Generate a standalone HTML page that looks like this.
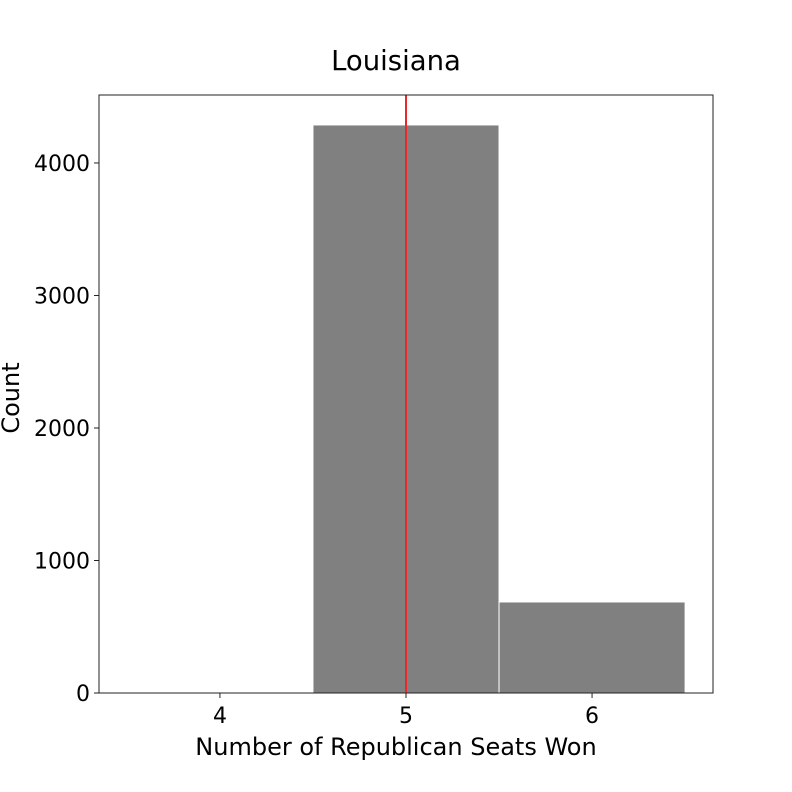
<!DOCTYPE html>
<html><head><meta charset="utf-8"><style>body{margin:0;background:#fff}svg{display:block;font-family:"DejaVu Sans","Liberation Sans",sans-serif}</style></head>
<body>
<svg id="chart" width="792" height="792">
<rect width="792" height="792" fill="#fff"/>
<text x="396" y="70" font-size="27.5" text-anchor="middle">Louisiana</text>
<g id="plot"></g>
<rect x="99" y="95" width="614" height="598" fill="none" stroke="#222" stroke-width="1"/>
<text x="396" y="755" font-size="24" text-anchor="middle">Number of Republican Seats Won</text>
<text transform="translate(19,398) rotate(-90)" font-size="24" text-anchor="middle">Count</text>
</svg>
<script>
const bins = [4, 5, 6];
const counts = [0, 4287, 687];
const xTicks = [4, 5, 6];
const yTicks = [0, 1000, 2000, 3000, 4000];
const markerValue = [5];
const X0=99,X1=713,Y0=693,Y1=95;
const xMin=3.35,xMax=6.65,yMin=0,yMax=4513;
const xs=v=>X0+(v-xMin)/(xMax-xMin)*(X1-X0);
const ys=v=>Y0-(v-yMin)/(yMax-yMin)*(Y0-Y1);
const g=document.getElementById('plot');
const NS='http://www.w3.org/2000/svg';
function mk(t,a){const e=document.createElementNS(NS,t);for(const k in a)e.setAttribute(k,a[k]);g.appendChild(e);return e;}
bins.forEach((b,i)=>{
  if(counts[i]<=0)return;
  const l=xs(b-0.5),r=xs(b+0.5);
  const e=mk('rect',{x:l,y:ys(counts[i]),width:r-l,height:ys(0)-ys(counts[i]),fill:'#808080',stroke:'#fff','stroke-width':1});
  
  
});
markerValue.forEach(v=>{
  const e=mk('line',{x1:xs(v),x2:xs(v),y1:Y1,y2:Y0,stroke:'#e8282b','stroke-width':2});
  
  
});
xTicks.forEach(v=>{
  const x=xs(v);
  const t=mk('line',{x1:x,x2:x,y1:Y0,y2:Y0+5,stroke:'#222'});
  
  
  const l=mk('text',{x:x,y:Y0+30,'font-size':22,'text-anchor':'middle'});
  l.textContent=v;
  
  
});
yTicks.forEach(v=>{
  const y=ys(v);
  const t=mk('line',{x1:X0-5,x2:X0,y1:y,y2:y,stroke:'#222'});
  
  
  const l=mk('text',{x:X0-9,y:y+8,'font-size':22,'text-anchor':'end'});
  l.textContent=v;
  
  
});
</script>
</body></html>
